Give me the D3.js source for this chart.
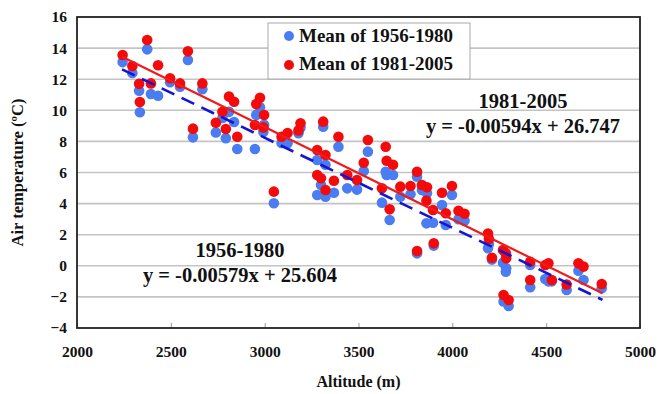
<!DOCTYPE html>
<html>
<head>
<meta charset="utf-8">
<script src="https://cdn.jsdelivr.net/npm/d3@7"></script>
<style>
  body { margin: 0; background: #fff; }
  text { font-family: "Liberation Serif", "Times New Roman", serif; font-weight: bold; fill: #111; }
</style>
</head>
<body>
<div id="chart"></div>
<script>
// station altitudes (m) and mean air temperature (°C) for both periods
const altitude = [2243, 2295, 2331, 2335, 2374, 2394, 2432, 2496, 2549, 2591,
  2618, 2668, 2740, 2775, 2793, 2810, 2837, 2854, 2948, 2955,
  2975, 2997, 2993, 3049, 3090, 3122, 3180, 3191, 3280, 3312,
  3324, 3280, 3300, 3324, 3369, 3393, 3440, 3492, 3528, 3550,
  3625, 3645, 3650, 3684, 3666, 3723, 3777, 3812, 3812, 3838,
  3865, 3862, 3901, 3897, 3945, 3965, 3998, 4033, 4065, 4190,
  4195, 4211, 4270, 4287, 4285, 4273, 4300, 4415, 4415, 4495,
  4512, 4530, 4609, 4672, 4699, 4796];
const mean5680 = [13.1, 12.4, 11.26, 9.87, 13.92, 11.05, 10.94, 11.8, 11.52, 13.23,
  8.26, 11.35, 8.58, 9.5, 8.2, 9.9, 9.25, 7.51, 7.51, 9.7,
  10.2, 9.07, 8.6, 4.02, 7.9, 7.88, 8.52, 8.9, 6.8, 8.95,
  6.5, 4.55, 5.2, 4.44, 4.7, 7.66, 4.98, 4.9, 6.1, 7.34,
  4.06, 6.05, 5.84, 5.84, 2.95, 4.44, 4.6, 5.73, 0.8, 4.87,
  4.66, 2.73, 1.3, 2.77, 3.91, 2.62, 4.55, 3.0, 2.9, 1.13,
  1.4, 0.4, 0.19, -0.16, -0.38, -2.3, -2.58, 0.05, -1.38, -0.85,
  -1.0, -1.0, -1.56, -0.32, -0.91, -1.45];
const mean8105 = [13.56, 12.85, 11.7, 10.53, 14.52, 11.73, 12.9, 12.06, 11.73, 13.79,
  8.82, 11.73, 9.2, 9.9, 8.8, 10.88, 10.55, 8.3, 9.05, 10.4,
  10.8, 9.7, 8.9, 4.77, 8.3, 8.54, 8.7, 9.16, 7.45, 9.27,
  7.13, 5.84, 5.63, 4.87, 5.47, 8.3, 5.84, 5.52, 6.63, 8.09,
  4.98, 7.66, 6.76, 6.5, 3.63, 5.09, 5.13, 6.05, 0.95, 5.2,
  5.05, 4.19, 1.45, 3.59, 4.7, 3.38, 5.13, 3.54, 3.35, 2.07,
  1.72, 0.52, 1.02, 0.48, 0.8, -1.88, -2.2, 0.26, -0.91, 0.05,
  0.16, -0.91, -1.2, 0.16, -0.05, -1.17];

// fitted trend lines: [slope, intercept]
const fit5680 = [-0.00579, 25.604];
const fit8105 = [-0.00594, 26.747];
const fitRange = [2240, 4800];

const xTicks = [2000, 2500, 3000, 3500, 4000, 4500, 5000];
const yTicks = [-4, -2, 0, 2, 4, 6, 8, 10, 12, 14, 16];

const width = 662, height = 394;
const margin = { left: 77, right: 22, top: 17, bottom: 66 };

const svg = d3.select("#chart").append("svg")
  .attr("width", width).attr("height", height);

const x = d3.scaleLinear().domain([2000, 5000]).range([margin.left, width - margin.right]);
const y = d3.scaleLinear().domain([-4, 16]).range([height - margin.bottom, margin.top]);

// grid lines
svg.append("g")
  .selectAll("line")
  .data(yTicks.slice(1, -1))
  .join("line")
  .attr("x1", x(2000)).attr("x2", x(5000))
  .attr("y1", (d) => y(d)).attr("y2", (d) => y(d))
  .style("stroke", "#c4c4c4")
  .style("stroke-width", 1.6);

// x axis
const xAxis = svg.append("g")
  .attr("transform", `translate(0,${y(-4)})`)
  .call(d3.axisBottom(x).tickValues(xTicks).tickSize(-5).tickPadding(18).tickFormat(d3.format("d")));
xAxis.select(".domain").remove();
xAxis.selectAll(".tick line").style("stroke", "#999");
xAxis.selectAll("text").style("font-size", "15.5px").style("font-family", "Liberation Serif").style("font-weight", "bold").style("fill", "#111");

// y axis
const yAxis = svg.append("g")
  .attr("transform", `translate(${x(2000)},0)`)
  .call(d3.axisLeft(y).tickValues(yTicks).tickSize(0).tickPadding(10));
yAxis.select(".domain").remove();
yAxis.selectAll("text").style("font-size", "15.5px").style("font-family", "Liberation Serif").style("font-weight", "bold").style("fill", "#111");

// plot frame
svg.append("rect")
  .attr("x", x(2000)).attr("y", y(16))
  .attr("width", x(5000) - x(2000)).attr("height", y(-4) - y(16))
  .style("fill", "none")
  .style("stroke", "#222")
  .style("stroke-width", 1.8);

// points
const pts = altitude.map((a, i) => ({ a: a, b: mean5680[i], r: mean8105[i] }));
svg.append("g")
  .selectAll("circle")
  .data(pts)
  .join("circle")
  .attr("cx", (d) => x(d.a)).attr("cy", (d) => y(d.b))
  .attr("r", 5.3)
  .style("fill", "#4a7df2");
svg.append("g")
  .selectAll("circle")
  .data(pts)
  .join("circle")
  .attr("cx", (d) => x(d.a)).attr("cy", (d) => y(d.r))
  .attr("r", 5.3)
  .style("fill", "#f40a0a");

// trend lines
const trend = (f) => fitRange.map((a) => [x(a), y(f[0] * a + f[1])]);
svg.append("path")
  .attr("d", d3.line()(trend(fit5680)))
  .style("stroke", "#1414d2")
  .style("stroke-width", 2.6)
  .style("stroke-dasharray", "14,8")
  .style("fill", "none");
svg.append("path")
  .attr("d", d3.line()(trend(fit8105)))
  .style("stroke", "#ee1c1c")
  .style("stroke-width", 2.2)
  .style("fill", "none");

// legend
const legend = svg.append("g");
legend.append("rect")
  .attr("x", 268).attr("y", 23).attr("width", 202).attr("height", 56)
  .style("fill", "#fff").style("stroke", "#aaa").style("stroke-width", 1);
[["Mean of 1956-1980", "#4a7df2"], ["Mean of 1981-2005", "#f40a0a"]].forEach((e, i) => {
  legend.append("circle").attr("cx", 289).attr("cy", 36 + i * 29).attr("r", 5).style("fill", e[1]);
  legend.append("text").attr("x", 299).attr("y", 42 + i * 28).style("font-size", "19px").text(e[0]);
});

// fit labels
const label = (cx, y1, title, eq) => {
  svg.append("text").attr("x", cx).attr("y", y1).attr("text-anchor", "middle")
    .style("font-size", "20.5px").text(title);
  svg.append("text").attr("x", cx).attr("y", y1 + 25).attr("text-anchor", "middle")
    .style("font-size", "20.5px").text(eq);
};
label(523, 108, "1981-2005", "y = -0.00594x + 26.747");
label(240, 257, "1956-1980", "y = -0.00579x + 25.604");

// axis titles
svg.append("text")
  .attr("x", x(3500)).attr("y", 387)
  .attr("text-anchor", "middle")
  .style("font-size", "16px")
  .text("Altitude (m)");
svg.append("text")
  .attr("transform", `translate(23,${y(6)}) rotate(-90)`)
  .attr("text-anchor", "middle")
  .style("font-size", "16.5px")
  .text("Air temperature (ºC)");
</script>
</body>
</html>
